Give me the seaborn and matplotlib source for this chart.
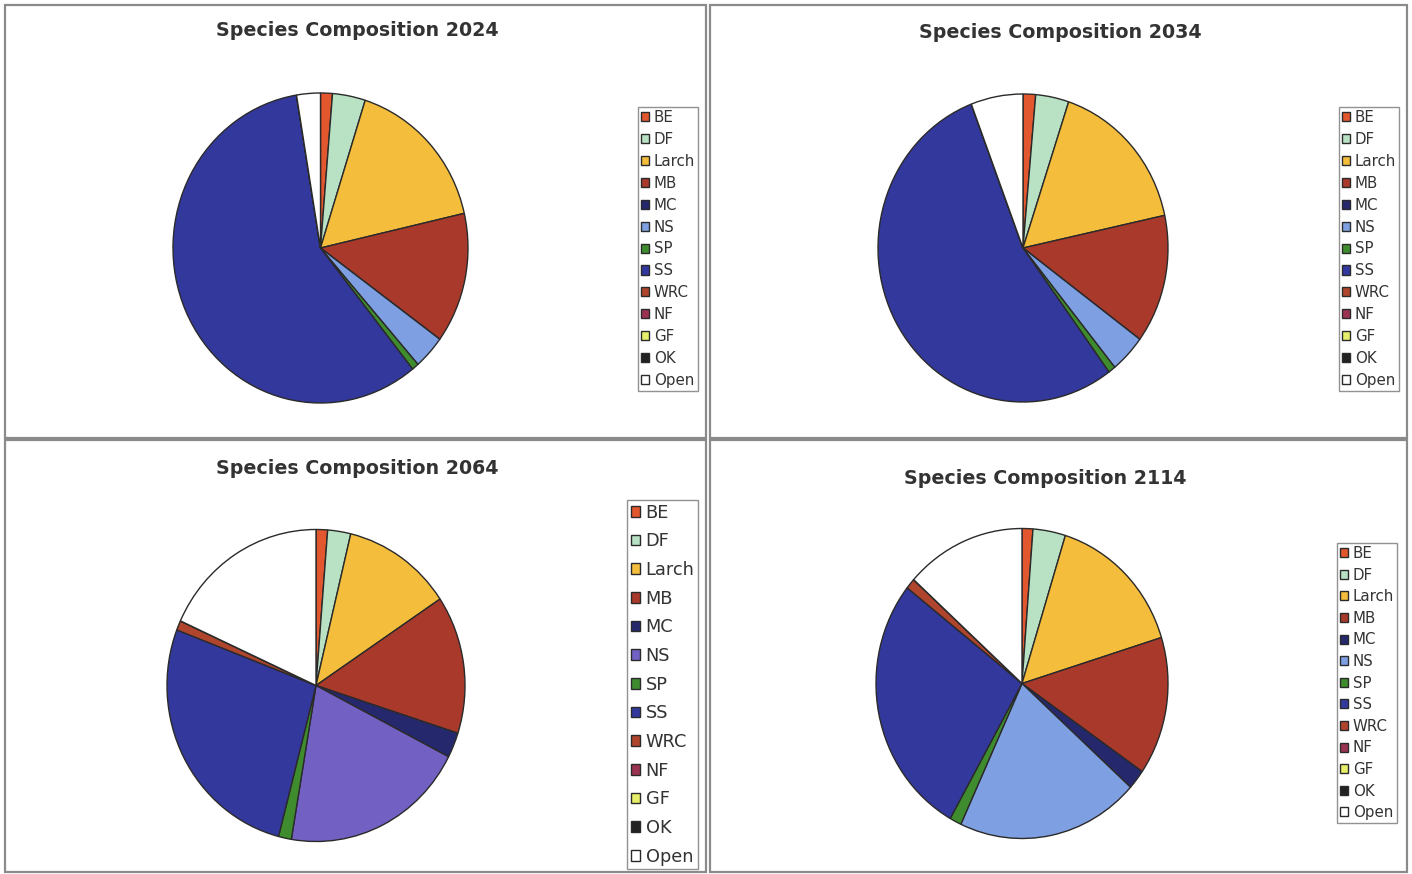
import matplotlib
matplotlib.use("Agg")
import matplotlib.pyplot as plt
from matplotlib.patches import Rectangle
import seaborn as sns

sns.set_theme(style="white")
plt.rcParams['font.family'] = ['DejaVu Sans']

# ---- data ----
species = ["BE", "DF", "Larch", "MB", "MC", "NS", "SP", "SS", "WRC", "NF", "GF", "OK", "Open"]
years = ["2024", "2034", "2064", "2114"]
share_2024 = [1.3, 3.6, 16.5, 13.6, 0.0, 3.5, 0.75, 58.1, 0.0, 0.0, 0.0, 0.0, 2.6]
share_2034 = [1.4, 3.7, 16.5, 13.5, 0.0, 4.0, 0.8, 54.3, 0.0, 0.0, 0.0, 0.0, 5.8]
share_2064 = [1.25, 2.5, 11.9, 14.3, 2.6, 20.1, 1.4, 26.75, 1.0, 0.0, 0.0, 0.0, 18.2]
share_2114 = [1.2, 3.6, 15.4, 14.4, 2.05, 20.2, 1.3, 27.4, 1.1, 0.0, 0.0, 0.0, 13.3]
shares = [share_2024, share_2034, share_2064, share_2114]

colors = ["#E2572E", "#B9E2C4", "#F4BD3C", "#A8392B", "#26286E", "#7E9FE2",
          "#3E8C2E", "#33389C", "#B0452E", "#9A3352", "#E6EE6A", "#222222", "#FFFFFF"]
colors_2064 = list(colors)
colors_2064[5] = "#7261C2"

W, H = 1412, 874
fig = plt.figure(figsize=(W / 100, H / 100), dpi=100)
fig.patch.set_facecolor("white")

def fx(x):
    return x / W

def fy(y):
    return 1 - y / H

# panel frames (x0, y0, x1, y1) in pixels
panels = [(5, 5, 706, 438), (710, 5, 1407, 438), (5, 440, 706, 872), (710, 440, 1407, 872)]
for (x0, y0, x1, y1) in panels:
    fig.add_artist(Rectangle((fx(x0), fy(y1)), fx(x1 - x0), (y1 - y0) / H,
                             transform=fig.transFigure, fill=False,
                             edgecolor="#8a8a8a", linewidth=1.6))

# pie centre and radii (x, y) in pixels
pie_geom = [(320.5, 248, 147.5, 155), (1023, 248, 145, 154),
            (316, 685.5, 149, 156), (1022, 683.5, 146, 155)]
titles_pos = [(357, 31), (1060, 33), (357, 468), (1045, 479)]
legend_boxes = [(638, 107, 10.8, 0.46), (1339, 107, 10.8, 0.46),
                (627, 500, 12.8, 0.60), (1337, 543, 10.8, 0.44)]

for i, yr in enumerate(years):
    cx, cy, rx, ry = pie_geom[i]
    ax = fig.add_axes([fx(cx - rx), fy(cy + ry), 2 * rx / W, 2 * ry / H])
    cols = colors_2064 if yr == "2064" else colors
    wedges, _ = ax.pie(shares[i], colors=cols, startangle=90, counterclock=False,
                       radius=1.0, normalize=True,
                       wedgeprops=dict(edgecolor="#2a2a2a", linewidth=1.0))
    ax.set_xlim(-1.0, 1.0)
    ax.set_ylim(-1.0, 1.0)
    ax.set_aspect("auto")
    ax.axis("off")

    tx, ty = titles_pos[i]
    fig.text(fx(tx), fy(ty), f"Species Composition {yr}", ha="center", va="center",
             fontsize=13.7, fontweight="bold", color="#333333")

    lx, ly, lfs, lsp = legend_boxes[i]
    leg = fig.legend(wedges, species, loc="upper left",
                     bbox_to_anchor=(fx(lx), fy(ly)), bbox_transform=fig.transFigure,
                     fontsize=lfs, labelspacing=lsp, handlelength=0.55, handleheight=0.55,
                     handletextpad=0.3, borderpad=0.2, borderaxespad=0,
                     frameon=True, fancybox=False, edgecolor="#777777",
                     labelcolor="#333333")
    leg.get_frame().set_linewidth(1.0)

fig.savefig("out.png", dpi=100, facecolor="white")
